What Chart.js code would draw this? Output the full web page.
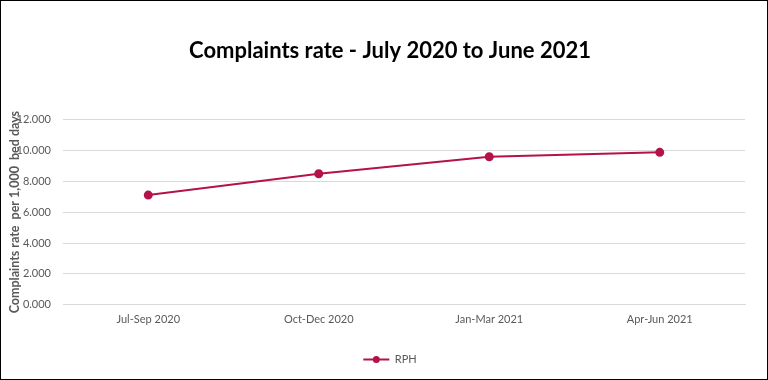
<!DOCTYPE html>
<html>
<head>
<meta charset="utf-8">
<script src="https://cdn.jsdelivr.net/npm/chart.js@4/dist/chart.umd.min.js"></script>
<style>
  html, body { margin:0; padding:0; background:#fff; }
  #wrap { width:766px; height:378px; border:1px solid #000; position:relative; }
</style>
</head>
<body>
<div id="wrap"><canvas id="c" width="766" height="378"></canvas></div>
<script>
// ═══ DATA ═══
const quarters = ['Jul-Sep 2020', 'Oct-Dec 2020', 'Jan-Mar 2021', 'Apr-Jun 2021'];
const rphRate = [7.10, 8.48, 9.58, 9.87];
const yTicks = [0, 2, 4, 6, 8, 10, 12];

const lineColor = '#B5124A';
const textColor = '#595959';
const font = 'Lato, "Open Sans", sans-serif';

// legend marker: line comes from the library, dot added on top
const legendDot = {
    id: 'legendDot',
    afterDraw(chart) {
        const lg = chart.legend, ctx = chart.ctx;
        (lg.legendHitBoxes || []).forEach(b => {
            const cx = b.left + 13, cy = b.top + b.height / 2;
            ctx.save();
            ctx.fillStyle = lineColor;
            ctx.beginPath(); ctx.arc(cx, cy, 3.5, 0, Math.PI * 2); ctx.fill();
            ctx.restore();
        });
    }
};

new Chart(document.getElementById('c'), {
    type: 'line',
    data: { labels: quarters, datasets: [{ label: 'RPH', data: rphRate, borderColor: lineColor, backgroundColor: lineColor, borderWidth: 2, pointRadius: 3.5, pointHoverRadius: 4, tension: 0 }] },
    options: {
        responsive: false, animation: false,
        layout: { padding: { left: 12, right: 0, top: 10, bottom: 4 } },
        plugins: {
            title: { display: true, text: 'Complaints rate - July 2020 to June 2021', color: '#000', font: { family: font, size: 22, weight: 'bold' }, padding: { top: 27, bottom: 55 } },
            legend: { position: 'bottom', labels: { usePointStyle: true, pointStyle: 'line', pointStyleWidth: 26, boxHeight: 8, color: textColor, font: { family: font, size: 11 }, padding: 20 } },
            tooltip: { enabled: false }
        },
        scales: {
            x: { offset: true, grid: { display: false, drawTicks: false }, border: { color: '#d9d9d9' }, ticks: { color: textColor, font: { family: font, size: 11 }, padding: 8 } },
            y: {
                min: 0, max: 12,
                afterBuildTicks: ax => { ax.ticks = yTicks.map(v => ({ value: v })); },
                afterFit: ax => { ax.width = 50; },
                grid: { color: '#d9d9d9', drawTicks: false }, border: { display: false },
                ticks: { color: textColor, padding: 12, font: { family: font, size: 11 }, callback: v => v.toFixed(3) },
                title: { display: true, text: 'Complaints rate  per 1,000  bed days', color: textColor, font: { family: font, size: 12.5, weight: 'bold' }, padding: { top: -6, bottom: 6 } }
            },
            // empty right-hand axis, only to keep space on the right
            yRight: { position: 'right', display: true, grid: { display: false }, border: { display: false }, ticks: { display: false }, afterFit: ax => { ax.width = 22; } }
        }
    },
    plugins: [legendDot]
});
</script>
</body>
</html>
